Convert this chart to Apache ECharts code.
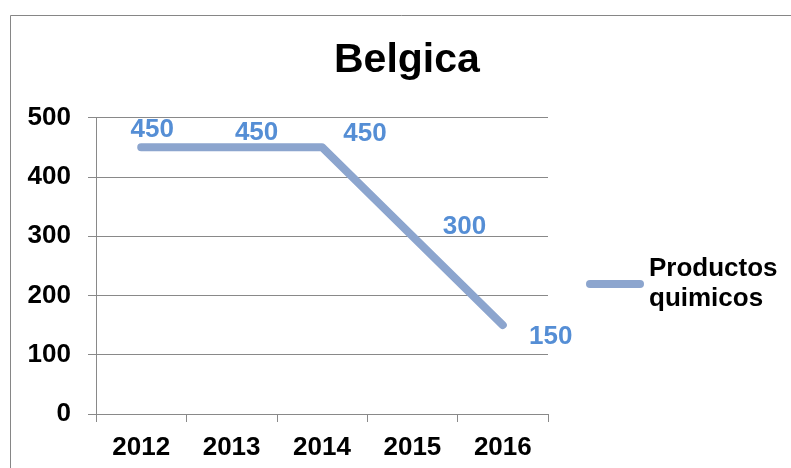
<!DOCTYPE html>
<html><head><meta charset="utf-8">
<script src="https://cdn.jsdelivr.net/npm/echarts@6/dist/echarts.min.js"></script>
<style>html,body{margin:0;padding:0;background:#fff}#c{width:791px;height:468px}</style>
</head><body><div id="c"></div>
<script>
const categories = ['2012', '2013', '2014', '2015', '2016'];
const seriesName = 'Productos quimicos';
const values = [450, 450, 450, 300, 150];
const yTicks = [0, 100, 200, 300, 400, 500];

const labelOffsets = [[11, -17], [25, -14], [43, -13], [52, -9], [48, 12]];
const FONT = '"Liberation Sans", Arial, sans-serif';
const chart = echarts.init(document.getElementById('c'), null, {renderer: 'canvas'});
chart.setOption({
  animation: false,
  backgroundColor: '#fff',
  title: {
    text: 'Belgica', left: 334, top: 40, padding: 0,
    textStyle: {fontFamily: FONT, fontSize: 41, fontWeight: 'bold', color: '#000'}
  },
  graphic: [{
    type: 'rect', shape: {x: 10.5, y: 15.5, width: 800, height: 500},
    style: {fill: 'none', stroke: '#868686', lineWidth: 1}, silent: true
  }],
  legend: {
    left: 586, top: 239, orient: 'vertical', padding: 0,
    itemWidth: 58, itemHeight: 8, itemGap: 0,
    icon: 'path://M4,0 L54,0 A4,4 0 0 1 54,8 L4,8 A4,4 0 0 1 4,0 Z',
    formatter: n => n.replace(' ', '\n'),
    textStyle: {fontFamily: FONT, fontSize: 26, fontWeight: 'bold', color: '#000', lineHeight: 30, padding: [30, 0, 0, 0]},
    data: [seriesName]
  },
  grid: {left: 96, right: 243, top: 117.5, bottom: 54, containLabel: false},
  xAxis: {
    type: 'category', data: categories, boundaryGap: true,
    axisLine: {lineStyle: {color: '#898989', width: 1}},
    axisTick: {show: true, length: 8, lineStyle: {color: '#898989'}},
    axisLabel: {fontFamily: FONT, fontSize: 26, fontWeight: 'bold', color: '#000', margin: 21}
  },
  yAxis: {
    type: 'value', min: yTicks[0], max: yTicks[yTicks.length - 1], interval: 100,
    axisLine: {show: true, lineStyle: {color: '#898989', width: 1}},
    axisTick: {show: true, length: 8, lineStyle: {color: '#898989'}},
    splitLine: {lineStyle: {color: '#898989', width: 1}},
    axisLabel: {fontFamily: FONT, fontSize: 26, fontWeight: 'bold', color: '#000', margin: 25}
  },
  series: [{
    name: seriesName, type: 'line',
    data: values.map((v, i) => ({value: v, label: {offset: labelOffsets[i]}})),
    symbol: 'circle', symbolSize: 0.1, showSymbol: true,
    itemStyle: {color: '#8CA5CE'},
    lineStyle: {color: '#8CA5CE', width: 8, cap: 'round', join: 'round'},
    label: {show: true, position: 'inside', fontFamily: FONT, fontSize: 26, fontWeight: 'bold', color: '#558ED5'}
  }]
});
</script></body></html>
